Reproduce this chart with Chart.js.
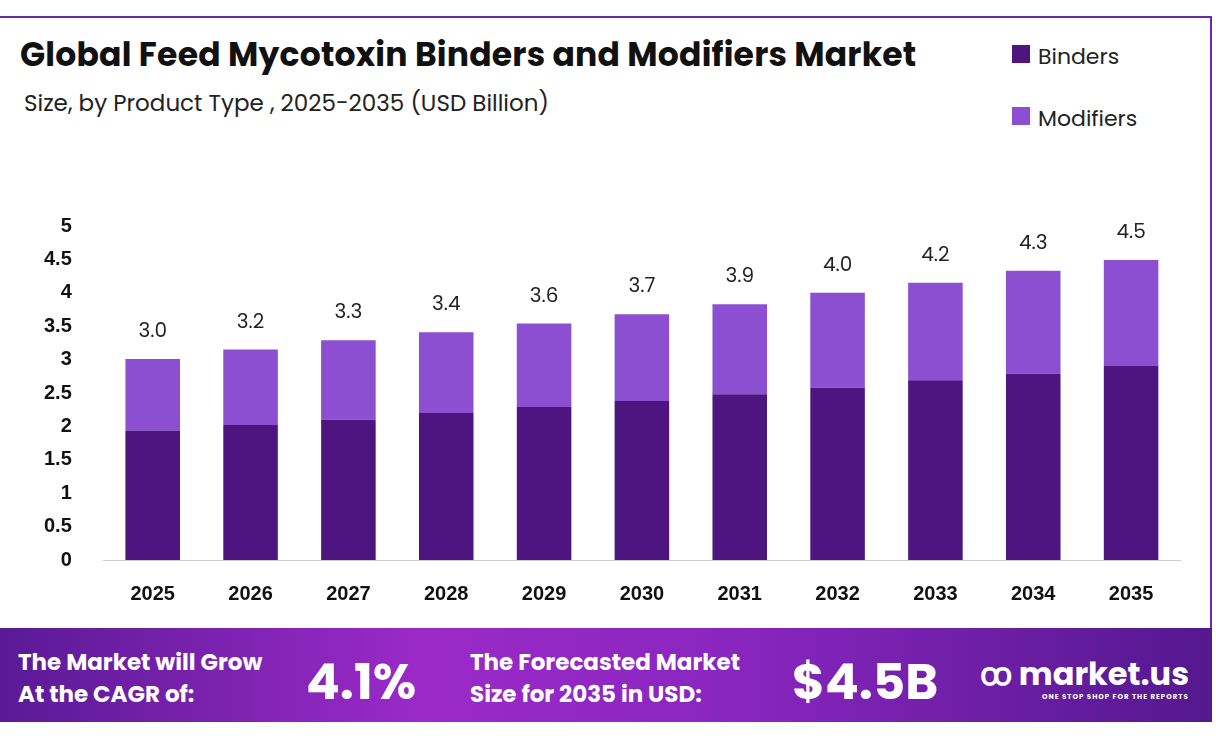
<!DOCTYPE html>
<html>
<head>
<meta charset="utf-8">
<script src="https://cdn.jsdelivr.net/npm/chart.js@4/dist/chart.umd.min.js"></script>
<style>
body { margin: 0; width: 1216px; height: 738px; background: #fff; font-family: Poppins, "Open Sans", sans-serif; overflow: hidden; }
#frame { position: absolute; left: 0; top: 16px; width: 1212px; height: 706px; border: 2px solid #6a2aa8; border-left: none; box-sizing: border-box; }
#title { position: absolute; left: 20px; top: 30px; font-size: 33px; font-weight: bold; color: #111; letter-spacing: 0.2px; }
#sub { position: absolute; left: 24px; top: 86px; font-size: 23px; color: #222; }
#legend { position: absolute; left: 1012px; top: 40px; font-size: 22px; color: #222; }
#legend div { height: 62px; display: flex; align-items: flex-start; }
#legend span { display: inline-block; width: 18px; height: 18px; margin: 5px 8px 0 0; }
#wrap { position: absolute; left: 0; top: 190px; width: 1200px; height: 430px; }
#foot { position: absolute; left: 0; top: 628px; width: 1212px; height: 94px; background: linear-gradient(90deg, #5a1a96 0%, #9b2ac8 35%, #8a26c0 60%, #54188f 100%); color: #fff; font-weight: bold; }
.t { position: absolute; font-size: 23px; line-height: 32px; }
.big { position: absolute; font-size: 50px; top: 16px; }
#logo { position: absolute; left: 980px; top: 22px; font-size: 32px; }
#logo small { display: block; font-size: 7px; letter-spacing: 1px; margin-left: 62px; margin-top: -6px; }
</style>
</head>
<body>
<div id="frame"></div>
<div id="wrap"><canvas id="c" width="1200" height="430"></canvas></div>
<div id="title">Global Feed Mycotoxin Binders and Modifiers Market</div>
<div id="sub">Size, by Product Type , 2025-2035 (USD Billion)</div>
<div id="legend">
  <div><span style="background:#4e1580"></span>Binders</div>
  <div><span style="background:#8c4fd1"></span>Modifiers</div>
</div>
<div id="foot">
  <div class="t" style="left:18px;top:18px">The Market will Grow<br>At the CAGR of:</div>
  <div class="big" style="left:306px">4.1%</div>
  <div class="t" style="left:470px;top:18px">The Forecasted Market<br>Size for 2035 in USD:</div>
  <div class="big" style="left:792px">$4.5B</div>
  <div id="logo">ꝏ market.us<small>ONE STOP SHOP FOR THE REPORTS</small></div>
</div>
<script>
var years = ["2025", "2026", "2027", "2028", "2029", "2030", "2031", "2032", "2033", "2034", "2035"];
var binders = [1.94, 2.02, 2.10, 2.20, 2.29, 2.38, 2.48, 2.58, 2.69, 2.79, 2.91];
var modifiers = [1.07, 1.13, 1.19, 1.21, 1.25, 1.30, 1.35, 1.42, 1.46, 1.54, 1.58];
var totalLabels = ["3.0", "3.2", "3.3", "3.4", "3.6", "3.7", "3.9", "4.0", "4.2", "4.3", "4.5"];

var totalPlugin = {
    id: "totals",
    afterDatasetsDraw: function(chart) {
        var ctx = chart.ctx,
            meta = chart.getDatasetMeta(1);
        ctx.save();
        ctx.font = "20px Poppins, 'Open Sans', sans-serif";
        ctx.fillStyle = "#222";
        ctx.textAlign = "center";
        meta.data.forEach(function(bar, i) {
            ctx.fillText(totalLabels[i], bar.x, bar.y - 22);
        });
        ctx.restore();
    }
};

new Chart(document.getElementById("c"), {
    type: "bar",
    data: {
        labels: years,
        datasets: [{
            label: "Binders",
            data: binders,
            backgroundColor: "#4e1580"
        }, {
            label: "Modifiers",
            data: modifiers,
            backgroundColor: "#8c4fd1"
        }]
    },
    options: {
        responsive: false,
        animation: false,
        layout: { padding: { left: 20, right: 20, top: 14 } },
        plugins: {
            legend: { display: false },
            tooltip: { enabled: false }
        },
        scales: {
            x: {
                stacked: true,
                grid: { display: false },
                border: { color: "#ccc" },
                ticks: { color: "#111", font: { size: 20, weight: "bold" }, padding: 14 }
            },
            y: {
                stacked: true,
                min: 0, max: 5,
                grid: { display: false },
                border: { display: false },
                ticks: {
                    stepSize: 0.5, color: "#111", font: { size: 20, weight: "bold" }, padding: 24,
                    callback: function(v) { return String(v); }
                }
            }
        },
        datasets: { bar: { categoryPercentage: 0.82, barPercentage: 0.68 } }
    },
    plugins: [totalPlugin]
});
</script>
</body>
</html>
